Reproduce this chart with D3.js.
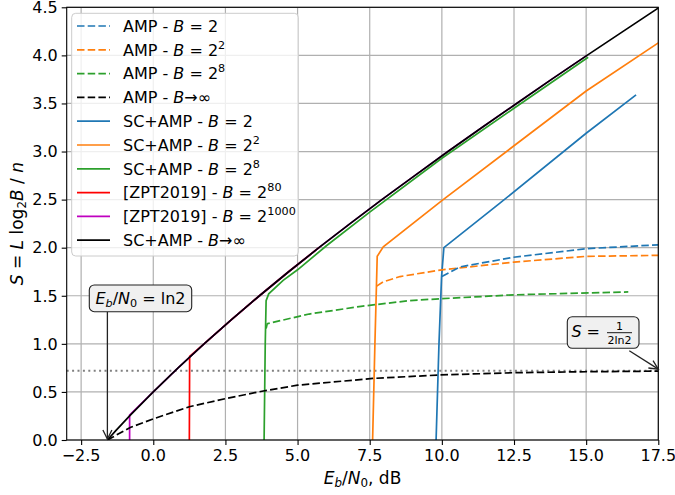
<!DOCTYPE html>
<html>
<head>
<meta charset="utf-8">
<script src="https://cdn.jsdelivr.net/npm/d3@7/dist/d3.min.js"></script>
<style>
  html, body { margin: 0; padding: 0; background: #fff; overflow: hidden; }
  svg { display: block; }
  svg text { font-family: "DejaVu Sans", sans-serif; }
</style>
</head>
<body>
<div id="chart"></div>
<script>
const width = 675;
const height = 495;
const margin = {top: 7.3, right: 16.7, bottom: 55, left: 66.7};
const innerWidth = width - margin.left - margin.right;
const innerHeight = height - margin.top - margin.bottom;

// tick labels
const xTicks = [-2.5, 0, 2.5, 5, 7.5, 10, 12.5, 15, 17.5];
const yTicks = [0, 0.5, 1, 1.5, 2, 2.5, 3, 3.5, 4, 4.5];

// series, [Eb/N0 dB, S]
const ampB2 = [[10.0,1.70],[10.63,1.80],[12.47,1.90],[15.02,1.99],[17.5,2.03]];
const ampB4 = [[7.74,1.60],[7.97,1.645],[8.55,1.70],[10.0,1.77],[12.5,1.85],[15.0,1.91],[17.5,1.92]];
const ampB256 = [[3.91,1.16],[3.95,1.21],[5.4,1.31],[7.2,1.39],[8.9,1.45],[10.0,1.47],[12.5,1.51],[16.46,1.54]];
const ampInf = [[-1.59,0],[-0.8,0.13],[0,0.22],[1.25,0.346],[2.5,0.43],[3.81,0.51],[5.0,0.57],[7.6,0.64],[9.9,0.676],[12.5,0.70],[15.0,0.71],[17.5,0.716]];
const scB2 = [[9.80,0],[9.9,1.0],[9.99,1.70],[10.07,2.0],[12.0,2.46],[15.0,3.19],[16.73,3.59]];
const scB4 = [[7.60,0],[7.68,1.0],[7.76,1.91],[7.97,2.01],[10.0,2.49],[12.5,3.06],[15.0,3.63],[17.5,4.13]];
const scB256 = [[3.84,0],[3.88,1.0],[3.91,1.45],[4.0,1.52],[4.5,1.66],[5.0,1.77],[6.0,2.02],[7.5,2.37],[10.0,2.93],[12.5,3.45],[15.07,3.98]];
const zpt80 = [[1.25,0],[1.26,0.87],[1.76,1.0],[2.70,1.25],[3.68,1.5],[4.69,1.75],[5.74,2.0]];
const zpt1000 = [[-0.82,0],[-0.82,0.26],[0,0.5],[0.86,0.75],[1.76,1.0],[2.70,1.25],[3.68,1.5],[4.69,1.75],[5.74,2.0],[6.82,2.25],[7.92,2.5],[9.06,2.75],[10.21,3.0],[11.39,3.25],[12.59,3.5],[13.80,3.75],[15.03,4.0]];
const scInf = [[-1.59,0],[-1.29,0.1],[-0.82,0.25],[0,0.5],[0.86,0.75],[1.76,1.0],[2.70,1.25],[3.68,1.5],[4.69,1.75],[5.74,2.0],[6.82,2.25],[7.92,2.5],[9.06,2.75],[10.21,3.0],[11.39,3.25],[12.59,3.5],[13.80,3.75],[15.03,4.0],[16.28,4.25],[17.54,4.5]];

const limitS = 0.7213; // 1/(2 ln2)
const limitEb = -1.59; // ln2 in dB

const series = [
  {data: ampB2, color: "#1f77b4", dash: true,
   label: [["AMP - "],["B","i"],[" = 2"]]},
  {data: ampB4, color: "#ff7f0e", dash: true,
   label: [["AMP - "],["B","i"],[" = 2"],["2","sup"]]},
  {data: ampB256, color: "#2ca02c", dash: true,
   label: [["AMP - "],["B","i"],[" = 2"],["8","sup"]]},
  {data: ampInf, color: "#000000", dash: true,
   label: [["AMP - "],["B","i"],["\u2192\u221e"]]},
  {data: scB2, color: "#1f77b4", dash: false,
   label: [["SC+AMP - "],["B","i"],[" = 2"]]},
  {data: scB4, color: "#ff7f0e", dash: false,
   label: [["SC+AMP - "],["B","i"],[" = 2"],["2","sup"]]},
  {data: scB256, color: "#2ca02c", dash: false,
   label: [["SC+AMP - "],["B","i"],[" = 2"],["8","sup"]]},
  {data: zpt80, color: "#ff0000", dash: false,
   label: [["[ZPT2019] - "],["B","i"],[" = 2"],["80","sup"]]},
  {data: zpt1000, color: "#bf00bf", dash: false,
   label: [["[ZPT2019] - "],["B","i"],[" = 2"],["1000","sup"]]},
  {data: scInf, color: "#000000", dash: false,
   label: [["SC+AMP - "],["B","i"],["\u2192\u221e"]]}
];

const svg = d3.select("#chart")
  .append("svg")
  .attr("width", width)
  .attr("height", height);

const x = d3.scaleLinear().domain([-3, 17.5]).range([0, innerWidth]);
const y = d3.scaleLinear().domain([0, 4.5]).range([innerHeight, 0]);

const g = svg.append("g")
  .attr("transform", "translate(" + margin.left + "," + margin.top + ")");

svg.append("defs").append("clipPath").attr("id", "plotclip")
  .append("rect").attr("width", innerWidth).attr("height", innerHeight);

// grid
g.append("g").selectAll("line").data(xTicks).join("line")
  .attr("x1", d => x(d)).attr("x2", d => x(d))
  .attr("y1", 0).attr("y2", innerHeight)
  .attr("stroke", "#b0b0b0").attr("stroke-width", 1.2);
g.append("g").selectAll("line").data(yTicks).join("line")
  .attr("x1", 0).attr("x2", innerWidth)
  .attr("y1", d => y(d)).attr("y2", d => y(d))
  .attr("stroke", "#b0b0b0").attr("stroke-width", 1.2);

// axes: tick marks from d3.axis, labels drawn from the same scales
const fmt = d3.format(".1f");
const xAxis = g.append("g")
  .attr("transform", "translate(0," + innerHeight + ")")
  .call(d3.axisBottom(x).tickValues(xTicks).tickFormat("").tickSize(5).tickSizeOuter(0));
const yAxis = g.append("g")
  .call(d3.axisLeft(y).tickValues(yTicks).tickFormat("").tickSize(5).tickSizeOuter(0));
[xAxis, yAxis].forEach(a => {
  a.select(".domain").remove();
  a.selectAll("text").remove();
  a.selectAll("line").attr("stroke", "#000").attr("stroke-width", 1.1);
});
g.append("g").selectAll("text").data(xTicks).join("text")
  .attr("x", d => x(d)).attr("y", innerHeight + 21)
  .attr("text-anchor", "middle").attr("font-size", 16).attr("fill", "#000")
  .text(d => fmt(d));
g.append("g").selectAll("text").data(yTicks).join("text")
  .attr("x", -9).attr("y", d => y(d) + 5.8)
  .attr("text-anchor", "end").attr("font-size", 16).attr("fill", "#000")
  .text(d => fmt(d));

// dotted limit line
g.append("line")
  .attr("x1", 0).attr("x2", innerWidth)
  .attr("y1", y(limitS)).attr("y2", y(limitS))
  .attr("stroke", "#808080").attr("stroke-width", 2)
  .attr("stroke-dasharray", "2,3.4");

// curves
const line = d3.line().x(d => x(d[0])).y(d => y(d[1]));
const plot = g.append("g").attr("clip-path", "url(#plotclip)");
const drawOrder = [7, 8, 6, 5, 4, 2, 1, 0, 3, 9];
drawOrder.forEach(i => {
  const s = series[i];
  plot.append("path")
    .attr("d", line(s.data))
    .attr("fill", "none")
    .attr("stroke", s.color)
    .attr("stroke-width", 1.7)
    .attr("stroke-dasharray", s.dash ? "7.5,3.2" : null);
});

// spines
g.append("rect")
  .attr("width", innerWidth).attr("height", innerHeight)
  .attr("fill", "none").attr("stroke", "#000").attr("stroke-width", 1.1);

// rich text helper
function rich(textSel, parts, size) {
  parts.forEach(p => {
    const t = textSel.append("tspan").text(p[0]);
    if (p[1] === "i") t.attr("font-style", "italic");
    if (p[1] === "sup") t.attr("font-size", size * 0.7).attr("baseline-shift", size * 0.42);
    if (p[1] === "sub") t.attr("font-size", size * 0.7).attr("baseline-shift", -size * 0.2);
    if (p[1] === "isub") t.attr("font-size", size * 0.7).attr("font-style", "italic").attr("baseline-shift", -size * 0.2);
  });
}

// axis labels
const xl = svg.append("text")
  .attr("x", margin.left + innerWidth / 2).attr("y", 484)
  .attr("text-anchor", "middle").attr("font-size", 17);
rich(xl, [["E","i"],["b","isub"],["/"],["N","i"],["0","sub"],[", dB"]], 17);

const yl = svg.append("text")
  .attr("transform", "translate(23," + (margin.top + innerHeight / 2) + ") rotate(-90)")
  .attr("text-anchor", "middle").attr("font-size", 17);
rich(yl, [["S","i"],[" = "],["L","i"],[" log"],["2","sub"],["B","i"],[" / "],["n","i"]], 17);

// legend
const leg = svg.append("g");
leg.append("rect")
  .attr("x", 71.7).attr("y", 13.3).attr("width", 226.6).attr("height", 242.7)
  .attr("rx", 4).attr("fill", "#fff").attr("fill-opacity", 0.8)
  .attr("stroke", "#cccccc").attr("stroke-width", 1);
series.forEach((s, i) => {
  const yy = 26 + i * 23.8;
  leg.append("line")
    .attr("x1", 77).attr("x2", 110).attr("y1", yy).attr("y2", yy)
    .attr("stroke", s.color).attr("stroke-width", 1.7)
    .attr("stroke-dasharray", s.dash ? "7.5,3.2" : null);
  const t = leg.append("text").attr("x", 123).attr("y", yy + 5.8).attr("font-size", 16);
  rich(t, s.label, 16);
});

// annotation: Eb/N0 = ln2
const ann = svg.append("g");
const ax0 = margin.left + x(limitEb);
ann.append("line")
  .attr("x1", ax0).attr("x2", ax0)
  .attr("y1", 311.7).attr("y2", margin.top + y(0) - 1)
  .attr("stroke", "#222").attr("stroke-width", 1.3);
ann.append("path")
  .attr("d", "M" + (ax0 - 4.5) + "," + (margin.top + y(0) - 10) + "L" + ax0 + "," + (margin.top + y(0) - 1) + "L" + (ax0 + 4.5) + "," + (margin.top + y(0) - 10))
  .attr("fill", "none").attr("stroke", "#222").attr("stroke-width", 1.3);
ann.append("rect")
  .attr("x", 89.3).attr("y", 285).attr("width", 102.4).attr("height", 26.7)
  .attr("rx", 5).attr("fill", "#f0f0f0").attr("stroke", "#222").attr("stroke-width", 1.1);
const at = ann.append("text").attr("x", 140.5).attr("y", 304)
  .attr("text-anchor", "middle").attr("font-size", 16);
rich(at, [["E","i"],["b","isub"],["/"],["N","i"],["0","sub"],[" = ln2"]], 16);

// annotation: S = 1/(2ln2)
const tipX = margin.left + x(17.5), tipY = margin.top + y(limitS) - 1.5;
const fromX = 629.3, fromY = 350.7;
const ang = Math.atan2(tipY - fromY, tipX - fromX);
const wing = a => [tipX - 10 * Math.cos(ang + a), tipY - 10 * Math.sin(ang + a)];
ann.append("line")
  .attr("x1", fromX).attr("y1", fromY).attr("x2", tipX).attr("y2", tipY)
  .attr("stroke", "#222").attr("stroke-width", 1.3);
ann.append("path")
  .attr("d", "M" + wing(0.45) + "L" + tipX + "," + tipY + "L" + wing(-0.45))
  .attr("fill", "none").attr("stroke", "#222").attr("stroke-width", 1.3);
ann.append("rect")
  .attr("x", 567.3).attr("y", 316.7).attr("width", 71.7).attr("height", 31.6)
  .attr("rx", 5).attr("fill", "#f0f0f0").attr("stroke", "#222").attr("stroke-width", 1.1);
ann.append("text").attr("x", 571.5).attr("y", 337).attr("font-size", 16)
  .attr("font-style", "italic").text("S");
ann.append("text").attr("x", 586.5).attr("y", 337).attr("font-size", 16).text("=");
ann.append("line").attr("x1", 607).attr("x2", 632).attr("y1", 332.7).attr("y2", 332.7)
  .attr("stroke", "#000").attr("stroke-width", 0.9);
ann.append("text").attr("x", 619.5).attr("y", 330).attr("font-size", 11)
  .attr("text-anchor", "middle").text("1");
ann.append("text").attr("x", 619.5).attr("y", 344).attr("font-size", 11)
  .attr("text-anchor", "middle").text("2ln2");
</script>
</body>
</html>
